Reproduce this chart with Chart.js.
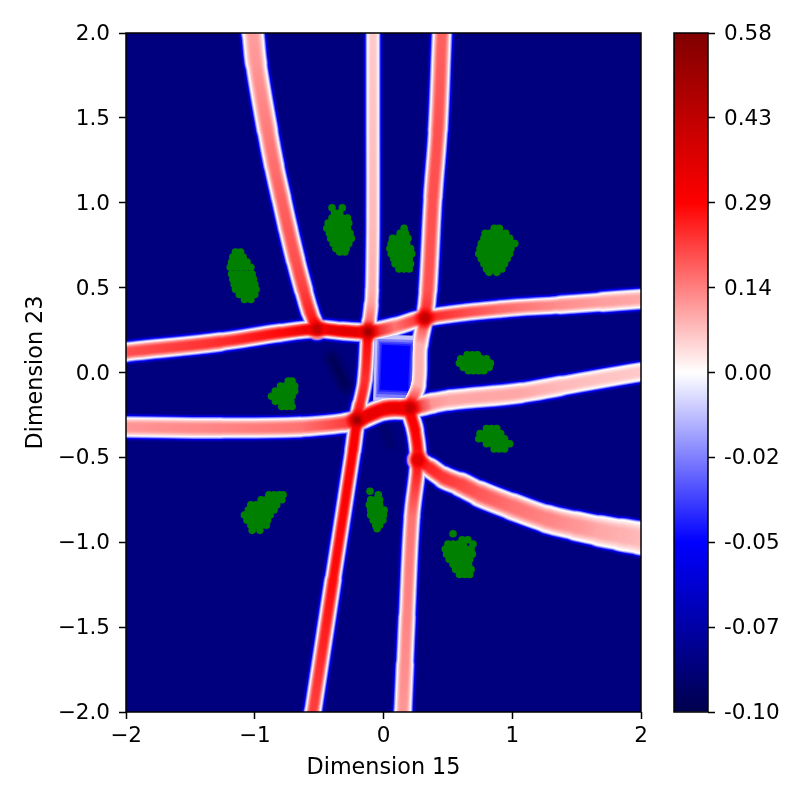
<!DOCTYPE html>
<html><head><meta charset="utf-8">
<script src="https://cdn.jsdelivr.net/npm/chart.js@4/dist/chart.umd.min.js"></script>
<style>html,body{margin:0;padding:0;background:#fff;width:806px;height:806px;overflow:hidden}canvas{position:absolute;left:0;top:0}</style>
</head><body>
<canvas id="main" width="806" height="806"></canvas>
<canvas id="bar" width="806" height="806"></canvas>
<script>
const xTickLabels=['−2','−1','0','1','2'];
const yTickLabels=['−2.0','−1.5','−1.0','−0.5','0.0','0.5','1.0','1.5','2.0'];
const cbarLabels=['-0.10','-0.07','-0.05','-0.02','0.00','0.14','0.29','0.43','0.58'];
const backgroundValue=-0.086;

// Ridges of the surface: centre x, centre y, band width (x units), peak value
const r1x=[-1.037,-1.014,-.99,-.902,-.85,-.796,-.742,-.683,-.621,-.571,-.516];
const r1y=[2.106,2,1.823,1.429,1.22,1.034,.85,.663,.486,.356,.256];
const r1w=[.155,.155,.148,.14,.136,.132,.132,.13,.124,.117,.117];
const r1v=[.11,.11,.12,.15,.165,.18,.19,.2,.22,.25,.3];

const r2x=[-.082,-.082,-.082,-.082,-.089,-.095,-.11,-.12,-.144,-.183,-.206,-.237,-.392,-.548,-.571];
const r2y=[2.106,2,1.429,.839,.486,.40,.30,.239,-.044,-.191,-.28,-.457,-1.222,-2,-2.106];
const r2w=[.085,.085,.085,.085,.085,.09,.1,.105,.095,.1,.117,.101,.109,.117,.117];
const r2v=[.06,.06,.07,.08,.09,.11,.18,.3,.24,.26,.3,.3,.28,.22,.22];

const r3x=[.462,.454,.423,.384,.346,.322,.283,.268,.206,.245,.268,.221,.183,.167,.151,.144];
const r3y=[2.106,2,1.429,1.034,.486,.321,.162,-.074,-.209,-.339,-.515,-.851,-1.44,-1.72,-2,-2.106];
const r3w=[.132,.132,.132,.124,.124,.117,.105,.101,.117,.117,.109,.104,.108,.114,.122,.122];
const r3v=[.18,.18,.2,.2,.2,.25,.09,.09,.3,.3,.28,.16,.14,.13,.12,.12];

const r4x=[-2.124,-2,-1.27,-.804,-.516,-.315,-.12,.089,.322,.905,1.371,1.7,2,2.148];
const r4y=[.109,.121,.18,.233,.256,.244,.239,.27,.321,.374,.398,.416,.433,.439];
const r4w=[.132,.132,.124,.117,.117,.124,.124,.125,.115,.109,.117,.128,.14,.14];
const r4v=[.2,.2,.24,.28,.35,.35,.35,.16,.25,.17,.13,.11,.1,.1];

const r5x=[-2.124,-2,-1.27,-.649,-.299,-.206,.012,.206,.384,.517,1.06,1.371,2,2.148];
const r5y=[-.321,-.321,-.327,-.321,-.297,-.28,-.215,-.209,-.18,-.162,-.121,-.08,.003,.015];
const r5w=[.14,.14,.14,.132,.132,.14,.165,.15,.135,.14,.14,.132,.124,.124];
const r5v=[.12,.12,.14,.16,.22,.35,.33,.35,.12,.1,.1,.08,.06,.06];

const r6x=[.268,.315,.361,.47,.6,.75,1.0,1.27,1.5,1.681,1.85,1.992,2.148];
const r6y=[-.515,-.54,-.563,-.62,-.66,-.716,-.79,-.863,-.905,-.934,-.957,-.975,-.998];
const r6w=[.117,.124,.132,.15,.16,.179,.186,.194,.206,.217,.23,.241,.241];
const r6v=[.3,.27,.25,.23,.21,.19,.16,.14,.12,.1,.09,.08,.08];

const junctionX=[-.516,-.12,.322,-.206,.206,.268];
const junctionY=[.256,.239,.321,-.28,-.209,-.515];
const junctionV=[.46,.5,.46,.5,.46,.42];

// The blue cell enclosed by the ridges: nested bands fading out from its centre
const cellX=[.097,.082];
const cellTop=[.22,.195,.18,.17,.16];
const cellBottom=[-.17,-.15,-.13,-.115,-.105];
const cellWidth=[.326,.287,.264,.24,.217];
const cellValue=[-.012,-.025,-.035,-.043,-.05];
const troughAx=[-.40,-.30];
const troughAy=[.085,-.074];
const troughBx=[.01,.05];
const troughBy=[-.33,-.42];

// Green sample clouds, each row: y, then the x values on that row
const cloudA=[[.71,-1.15,-1.11],[.68,-1.17,-1.13,-1.09],[.65,-1.18,-1.14,-1.10,-1.06],[.62,-1.19,-1.15,-1.11,-1.07,-1.03],[.58,-1.18,-1.14,-1.10,-1.06,-1.02],[.55,-1.17,-1.13,-1.09,-1.05,-1.01],[.52,-1.16,-1.12,-1.08,-1.04,-1.00],[.49,-1.15,-1.11,-1.07,-1.03,-.99],[.46,-1.12,-1.08,-1.04,-1.0],[.43,-1.08,-1.03]];
const cloudB=[[.97,-.40,-.32],[.94,-.38,-.34],[.91,-.40,-.36,-.32,-.28],[.88,-.43,-.39,-.35,-.31,-.27],[.85,-.44,-.40,-.36,-.32,-.28],[.82,-.42,-.38,-.34,-.30,-.26],[.79,-.41,-.37,-.33,-.29,-.25],[.76,-.39,-.35,-.31,-.27],[.73,-.37,-.33,-.29],[.71,-.34,-.30]];
const cloudC=[[.85,.16],[.82,.13,.17],[.79,.07,.11,.15,.19],[.76,.06,.10,.14,.18],[.73,.05,.09,.13,.17,.21],[.70,.06,.10,.14,.18,.22],[.67,.08,.12,.16,.20],[.64,.09,.13,.17,.21],[.61,.12,.16,.20]];
const cloudD=[[.85,.86,.90],[.82,.79,.83,.87,.91,.95],[.79,.78,.82,.86,.90,.94,.98],[.76,.76,.80,.84,.88,.92,.96,1.0,1.02],[.73,.75,.79,.83,.87,.91,.95,.99],[.70,.74,.78,.82,.86,.90,.94,.98],[.67,.76,.80,.84,.88,.92,.96],[.64,.78,.82,.86,.90,.94],[.61,.80,.84,.88,.92],[.59,.82,.88]];
const cloudE=[[.105,.65,.69,.73],[.08,.60,.64,.68,.72,.76,.80],[.055,.59,.63,.67,.71,.75,.79,.83],[.03,.62,.66,.70,.74,.78,.82],[.01,.66,.70,.74,.78]];
const cloudF=[[-.05,-.74,-.71],[-.08,-.80,-.76,-.72,-.69],[-.11,-.84,-.80,-.76,-.72,-.69],[-.14,-.87,-.83,-.79,-.75,-.71],[-.17,-.84,-.80,-.76,-.72],[-.20,-.79,-.75,-.71]];
const cloudG=[[-.33,.80,.84,.88],[-.36,.75,.79,.83,.87,.91],[-.39,.74,.78,.82,.86,.90,.94],[-.42,.80,.84,.88,.92,.96,.98],[-.45,.86,.90,.94]];
const cloudH=[[-.72,-.89,-.85,-.81,-.78],[-.75,-.95,-.91,-.87,-.83,-.79],[-.78,-1.03,-.99,-.95,-.91,-.87,-.83],[-.81,-1.05,-1.01,-.97,-.93,-.89,-.85],[-.84,-1.08,-1.04,-1.0,-.96,-.92,-.88],[-.87,-1.06,-1.02,-.98,-.94,-.90],[-.90,-1.03,-.99,-.95,-.91],[-.93,-1.02,-.96]];
const cloudI=[[-.70,-.105],[-.72,-.04],[-.75,-.10,-.06,-.03],[-.78,-.11,-.07,-.03],[-.81,-.10,-.06,-.02,.005],[-.84,-.10,-.06,-.02,.00],[-.87,-.08,-.04,-.005],[-.90,-.06,-.03],[-.92,-.05]];
const cloudJ=[[-.95,.54],[-.985,.61,.655],[-1.01,.50,.54,.58,.62,.695],[-1.04,.48,.52,.56,.60,.64,.68],[-1.07,.49,.53,.57,.61,.65,.69],[-1.10,.51,.55,.59,.63,.67],[-1.13,.54,.58,.62,.66],[-1.16,.56,.60,.64,.68],[-1.19,.59,.63,.67]];

const FONT='"DejaVu Sans"';
const PX_PER_X=515/4;
const stops=[[0,[0,0,77]],[.25,[0,0,255]],[.5,[255,255,255]],[.75,[255,0,0]],[1,[128,0,0]]];
function seismic(t){
  t=Math.max(0,Math.min(1,t));
  for(let i=1;i<stops.length;i++){
    if(t<=stops[i][0]){
      const a=stops[i-1],b=stops[i],f=(t-a[0])/(b[0]-a[0]);
      return 'rgb('+a[1].map((c,k)=>Math.round(c+(b[1][k]-c)*f)).join(',')+')';
    }
  }
  return 'rgb(128,0,0)';
}
const toT=v=>v<0?.5+v/.1*.5:.5+v/.58*.5;
const colorOf=v=>seismic(toT(v));

const ridges=[[r1x,r1y,r1w,r1v],[r2x,r2y,r2w,r2v],[r3x,r3y,r3w,r3v],[r4x,r4y,r4w,r4v],[r5x,r5y,r5w,r5v],[r6x,r6y,r6w,r6v]];
const haloLow=[[9.5,.11],[7.5,.17]];
const haloHigh=[[5.5,.25],[4,.33],[2.8,.4],[1.4,.46]];
const inner=[[1,0],[.94,.12],[.88,.3],[.8,.48],[.72,.64],[.62,.8],[.52,.92],[.42,.98],[.3,1]];
const JR=9.5;

const list=[];
function line(xs,ys,widthAt,colorAt,cap){
  list.push({type:'scatter',showLine:true,pointRadius:0,tension:.4,fill:false,
    data:xs.map((x,i)=>({x,y:ys[i]})),
    borderColor:colorAt(0),borderWidth:widthAt(0),borderCapStyle:cap||'round',
    segment:{borderWidth:c=>(widthAt(c.p0DataIndex)+widthAt(c.p1DataIndex))/2,
      borderColor:c=>{
        const a=colorAt(c.p0DataIndex),b=colorAt(c.p1DataIndex);
        if(a===b)return a;
        const g=c.chart.ctx.createLinearGradient(c.p0.x,c.p0.y,c.p1.x,c.p1.y);
        g.addColorStop(0,a);g.addColorStop(1,b);
        return g;
      }}});
}
function dots(radius,color){
  list.push({type:'scatter',showLine:false,data:junctionX.map((x,i)=>({x,y:junctionY[i]})),
    pointRadius:radius,pointBackgroundColor:color,pointBorderWidth:0});
}
function haloLayer(add,t){
  ridges.forEach(r=>line(r[0],r[1],i=>r[2][i]*PX_PER_X+add,()=>seismic(t)));
  dots(JR+add/2,seismic(t));
}
haloLow.forEach(h=>haloLayer(h[0],h[1]));
[[20,'rgba(0,0,50,.15)'],[13,'rgba(0,0,50,.2)'],[6,'rgba(0,0,50,.25)']].forEach(p=>line(troughAx,troughAy,()=>p[0],()=>p[1]));
[[16,'rgba(0,0,60,.1)'],[9,'rgba(0,0,60,.15)']].forEach(p=>line(troughBx,troughBy,()=>p[0],()=>p[1]));
haloHigh.forEach(h=>haloLayer(h[0],h[1]));
cellTop.forEach((top,k)=>line(cellX,[top,cellBottom[k]],()=>cellWidth[k]*PX_PER_X,()=>colorOf(cellValue[k]),'butt'));
dots(JR,'#ffffff');
inner.forEach(l=>{
  ridges.forEach(r=>line(r[0],r[1],i=>r[2][i]*PX_PER_X*l[0],
    i=>seismic(.5+l[1]*(toT(r[3][i])-.5))));
});
[[12,.12,.30],[10.5,.25,.31],[9,.4,.33],[7.5,.55,.37],[6,.7,.41],[4.5,.85,.45],[3,1,.5]].forEach(j=>{
  list.push({type:'scatter',showLine:false,data:junctionX.map((x,i)=>({x,y:junctionY[i]})),
    pointRadius:j[0],pointBorderWidth:0,
    pointBackgroundColor:junctionV.map(v=>{
      const c=colorOf(Math.min(v,j[2])*(v/.5));
      return c.replace('rgb(','rgba(').replace(')',','+j[1]+')');
    })});
});
[cloudA,cloudB,cloudC,cloudD,cloudE,cloudF,cloudG,cloudH,cloudI,cloudJ].forEach(cloud=>{
  const pts=[];
  cloud.forEach(row=>row.slice(1).forEach(x=>pts.push({x,y:row[0]})));
  list.push({type:'scatter',showLine:false,data:pts,pointRadius:3.8,pointBackgroundColor:'#008000',pointBorderWidth:0});
});
list.forEach((d,i)=>{d.order=list.length-i;});

const frame={id:'frame',
  beforeDatasetsDraw(c,a,o){
    if(!o.fill)return;
    const g=c.ctx,b=c.chartArea;
    g.save();g.fillStyle=o.fill;g.fillRect(b.left,b.top,b.right-b.left,b.bottom-b.top);g.restore();
  },
  afterDraw(c){
    const g=c.ctx,b=c.chartArea;
    g.save();g.strokeStyle='#000';g.lineWidth=1.5;g.strokeRect(b.left,b.top,b.right-b.left,b.bottom-b.top);g.restore();
  }};

const tickFont={family:FONT,size:21.5};
const titleFont={family:FONT,size:22.3};
new Chart(document.getElementById('main'),{
  type:'scatter',
  data:{datasets:list},
  plugins:[frame],
  options:{responsive:false,animation:false,events:[],
    layout:{padding:{top:33,right:165,left:0,bottom:0}},
    plugins:{legend:{display:false},tooltip:{enabled:false},frame:{fill:colorOf(backgroundValue)}},
    scales:{
      x:{type:'linear',min:-2,max:2,afterFit:s=>{s.height=94;},
        border:{display:false},
        grid:{drawOnChartArea:false,drawTicks:true,tickLength:7,tickWidth:1.5,tickColor:'#000'},
        ticks:{stepSize:1,color:'#000',font:tickFont,padding:5,maxRotation:0,callback:v=>xTickLabels[Math.round(v+2)]},
        title:{display:true,text:'Dimension 15',color:'#000',font:titleFont,padding:{top:0,bottom:24}}},
      y:{type:'linear',min:-2,max:2,afterFit:s=>{s.width=126;},
        border:{display:false},
        grid:{drawOnChartArea:false,drawTicks:true,tickLength:7,tickWidth:1.5,tickColor:'#000'},
        ticks:{stepSize:.5,color:'#000',font:tickFont,padding:9,labelOffset:1.5,callback:v=>yTickLabels[Math.round((v+2)*2)]},
        title:{display:true,text:'Dimension 23',color:'#000',font:titleFont,padding:{top:23,bottom:0}}}
    }}
});

new Chart(document.getElementById('bar'),{
  type:'bar',
  data:{labels:['colour'],datasets:[{data:[[0,cbarLabels.length-1]],barPercentage:1,categoryPercentage:1,borderWidth:0,
    backgroundColor:c=>{
      const a=c.chart.chartArea;
      if(!a)return '#888';
      const g=c.chart.ctx.createLinearGradient(0,a.bottom,0,a.top);
      stops.forEach(s=>g.addColorStop(s[0],seismic(s[0])));
      return g;
    }}]},
  plugins:[frame],
  options:{responsive:false,animation:false,events:[],
    layout:{padding:{top:33,left:674,right:0,bottom:94}},
    plugins:{legend:{display:false},tooltip:{enabled:false},frame:{}},
    scales:{
      x:{display:false},
      y:{position:'right',min:0,max:8,afterFit:s=>{s.width=98;},
        border:{display:false},
        grid:{drawOnChartArea:false,drawTicks:true,tickLength:7,tickWidth:1.5,tickColor:'#000'},
        ticks:{stepSize:1,color:'#000',font:tickFont,padding:9,labelOffset:1.5,callback:v=>cbarLabels[v]}}
    }}
});
</script>
</body></html>
